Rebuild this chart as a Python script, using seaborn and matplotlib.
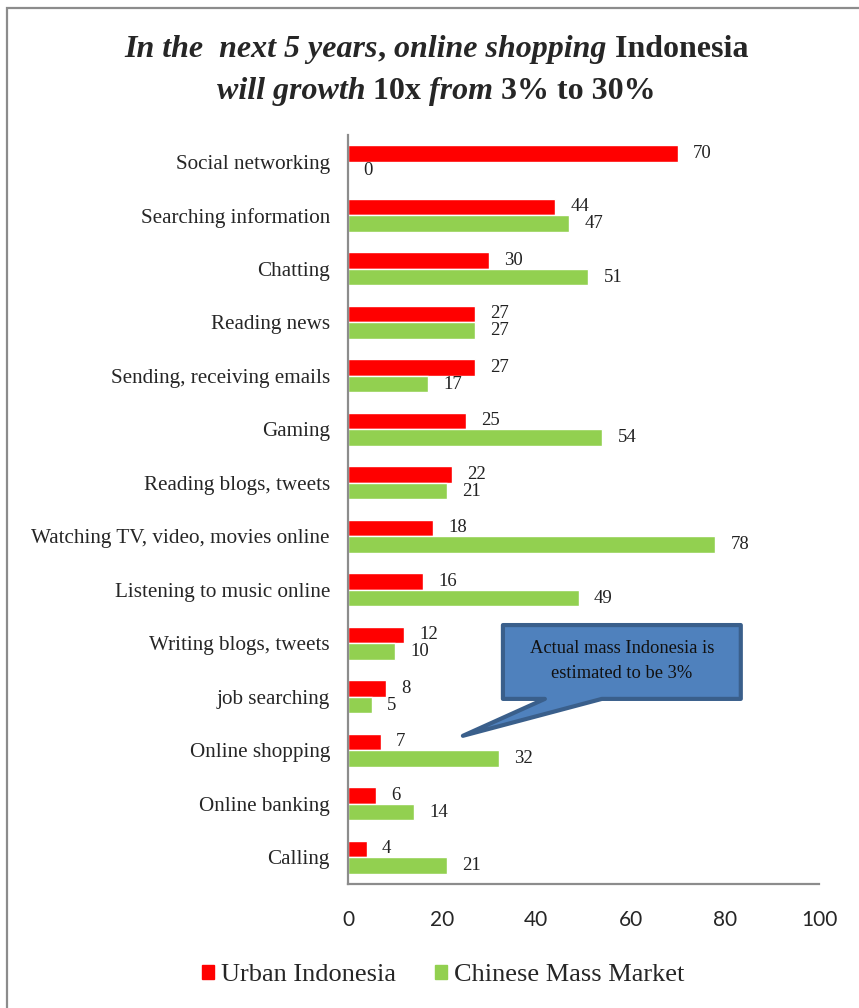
import matplotlib
matplotlib.use("Agg")
import matplotlib.pyplot as plt
from matplotlib.patches import Rectangle, Polygon, Patch
import seaborn as sns
import pandas as pd

# ---- data ----
categories = ["Social networking", "Searching information", "Chatting", "Reading news",
              "Sending, receiving emails", "Gaming", "Reading blogs, tweets",
              "Watching TV, video, movies online", "Listening to music online",
              "Writing blogs, tweets", "job searching", "Online shopping",
              "Online banking", "Calling"]
urban_indonesia = [70, 44, 30, 27, 27, 25, 22, 18, 16, 12, 8, 7, 6, 4]
chinese_mass = [0, 47, 51, 27, 17, 54, 21, 78, 49, 10, 5, 32, 14, 21]
series_names = ["Urban Indonesia", "Chinese Mass Market"]
x_ticks = [0, 20, 40, 60, 80, 100]
callout_text = "Actual mass Indonesia is\nestimated to be 3%"

RED = "#FF0000"
GREEN = "#92D050"

sns.set_theme(style="white")
plt.rcParams["font.family"] = ["Liberation Serif", "DejaVu Sans"]

df = pd.DataFrame({
    "activity": categories * 2,
    "value": urban_indonesia + chinese_mass,
    "series": [series_names[0]] * len(categories) + [series_names[1]] * len(categories),
})

fig = plt.figure(figsize=(8.59, 10.08), dpi=100)
ax = fig.add_axes([0.4051, 0.1230, 0.5483, 0.7431])

sns.barplot(data=df, y="activity", x="value", hue="series", order=categories,
            hue_order=series_names, palette=[RED, GREEN], orient="h",
            width=0.62, saturation=1, ax=ax, legend=False, errorbar=None)

for cont in ax.containers:
    ax.bar_label(cont, labels=[f"{int(round(b.get_width()))}" for b in cont],
                 padding=11, fontsize=13.5, color="#222222",
                 family=["Liberation Serif"])

ax.set_xlim(0, 100)
ax.set_ylim(len(categories) - 0.5, -0.5)
ax.set_xticks(x_ticks)
ax.set_xticklabels([str(t) for t in x_ticks], family=["Lato", "DejaVu Sans"], fontsize=15)
ax.tick_params(axis="x", length=0, pad=19)
ax.tick_params(axis="y", length=0, pad=13, labelsize=15.2)
ax.set_xlabel("")
ax.set_ylabel("")
for s in ["top", "right"]:
    ax.spines[s].set_visible(False)
for s in ["left", "bottom"]:
    ax.spines[s].set_color("#8c8c8c")
    ax.spines[s].set_linewidth(1.6)

# ---- callout ----
verts = [(32.9, 8.66), (83.4, 8.66), (83.4, 10.04), (53.9, 10.04),
         (24.4, 10.73), (41.8, 10.04), (32.9, 10.04)]
ax.add_patch(Polygon(verts, closed=True, facecolor="#4F81BD", edgecolor="#3A5F8B",
                     linewidth=3, joinstyle="round", clip_on=False, zorder=5))
ax.text((32.9 + 83.4) / 2, (8.66 + 10.04) / 2 - 0.02, callout_text, ha="center", va="center",
        fontsize=13.3, color="#111111", zorder=6, linespacing=1.65)

# ---- title (mixed italic / upright bold) ----
line1 = [("In the  next 5 years", "italic"), (", ", "normal"),
         ("online shopping", "italic"), (" Indonesia", "normal")]
line2 = [("will growth", "italic"), (" 10x ", "normal"), ("from", "italic"),
         (" 3% to 30%", "normal")]


def rich_line(parts, y):
    texts = []
    for s, st in parts:
        t = fig.text(0, y, s, fontsize=23, fontweight="bold", fontstyle=st,
                     ha="left", va="bottom")
        texts.append(t)
    return texts


def layout_line(texts, y, center_x):
    fig.canvas.draw()
    r = fig.canvas.get_renderer()
    widths = [t.get_window_extent(r).width for t in texts]
    total = sum(widths)
    x = center_x * fig.bbox.width - total / 2
    for t, w in zip(texts, widths):
        t.set_position((x / fig.bbox.width, y))
        x += w


t1 = rich_line(line1, 0.937)
t2 = rich_line(line2, 0.895)
layout_line(t1, 0.937, 0.508)
layout_line(t2, 0.895, 0.508)

# ---- legend ----
handles = [Patch(facecolor=RED, edgecolor=RED), Patch(facecolor=GREEN, edgecolor=GREEN)]
fig.legend(handles, series_names, loc="center", bbox_to_anchor=(0.5157, 0.0327),
           ncol=2, frameon=False, fontsize=19, handlelength=0.45, handleheight=0.45,
           handletextpad=0.25, columnspacing=1.5)

# ---- outer border ----
fig.add_artist(Rectangle((6.5 / 859, -0.1), 1.2, (1008 - 7.5) / 1008 + 0.1,
                         transform=fig.transFigure, fill=False,
                         edgecolor="#8c8c8c", linewidth=1.6))

fig.savefig("out.png", dpi=100)
